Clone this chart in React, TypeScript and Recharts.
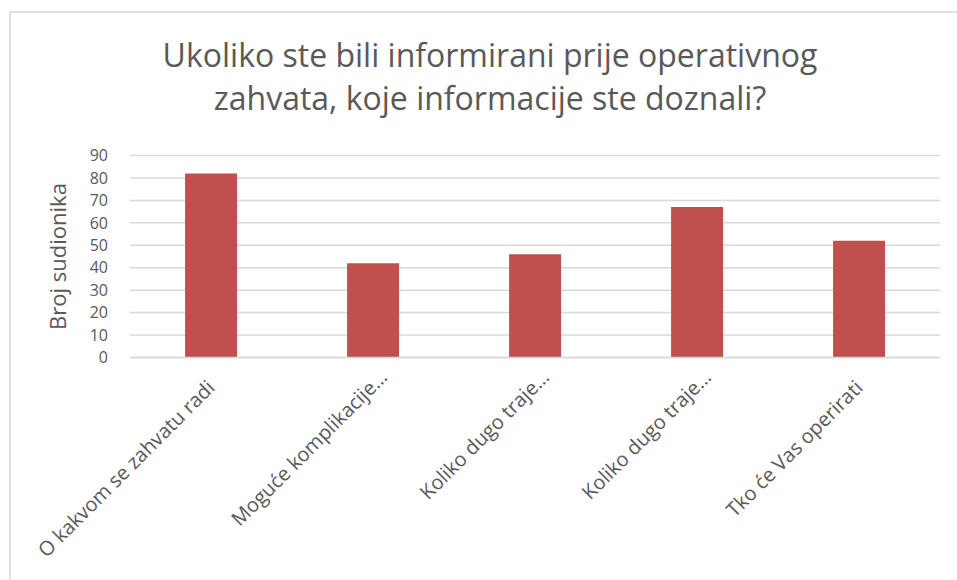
import React from 'react';
import { BarChart, Bar, XAxis, YAxis, CartesianGrid, Label } from 'recharts';

const categories = [
  'O kakvom se zahvatu radi',
  'Moguće komplikacije…',
  'Koliko dugo traje…',
  'Koliko dugo traje…',
  'Tko će Vas operirati',
];
const participants = [82, 42, 46, 67, 52];
const yTicks = [0, 10, 20, 30, 40, 50, 60, 70, 80, 90];

const titleLines = [
  'Ukoliko ste bili informirani prije operativnog',
  'zahvata, koje informacije ste doznali?',
];
const yAxisTitle = 'Broj sudionika';

const data = categories.map((name, i) => ({ name, value: participants[i] }));

const FONT = '"Open Sans", sans-serif';
const TEXT = '#595959';

function CategoryTick(props: any) {
  const { x, y, payload } = props;
  const ax = x + 5;
  const ay = y + 23.5;
  // truncated labels sit a little further along their own line
  const shift = String(payload.value).endsWith('…') ? 15 : 0;
  return (
    <text
      x={ax}
      y={ay}
      dx={shift}
      transform={`rotate(-45, ${ax}, ${ay})`}
      textAnchor="end"
      fill={TEXT}
      fontSize={20}
      fontFamily={FONT}
    >
      {payload.value}
    </text>
  );
}

export default function App() {
  return (
    <div
      style={{
        position: 'absolute',
        left: 0,
        top: 0,
        width: 957,
        height: 580,
        overflow: 'hidden',
        background: '#fff',
      }}
    >
      <div
        style={{
          position: 'absolute',
          left: 9,
          top: 11,
          width: 1000,
          height: 620,
          border: '2px solid #e0e0e0',
        }}
      />
      <div
        style={{
          position: 'absolute',
          left: 0,
          top: 33,
          width: 980,
          textAlign: 'center',
          fontFamily: FONT,
          fontSize: 32,
          lineHeight: '43px',
          color: TEXT,
        }}
      >
        {titleLines.map((t) => (
          <div key={t}>{t}</div>
        ))}
      </div>
      <div style={{ position: 'absolute', left: 0, top: 0 }}>
        <BarChart
          width={957}
          height={580}
          data={data}
          margin={{ top: 155.5, right: 17, left: 0, bottom: 0 }}
          barCategoryGap="34%"
        >
          <CartesianGrid vertical={false} stroke="#d9d9d9" strokeWidth={1.5} />
          <XAxis
            dataKey="name"
            height={222.5}
            interval={0}
            tickLine={false}
            axisLine={{ stroke: '#d9d9d9', strokeWidth: 1.5 }}
            tick={<CategoryTick />}
          />
          <YAxis
            width={130}
            domain={[0, 90]}
            ticks={yTicks}
            interval={0}
            axisLine={false}
            tickLine={false}
            tickMargin={16}
            tick={{ fill: TEXT, fontSize: 16, fontFamily: FONT }}
          >
            <Label
              content={(p: any) => {
                const vb = p.viewBox;
                const lx = vb.x + 66;
                const ly = vb.y + vb.height / 2;
                return (
                  <text
                    x={lx}
                    y={ly}
                    transform={`rotate(-90, ${lx}, ${ly})`}
                    textAnchor="middle"
                    fill={TEXT}
                    fontSize={22}
                    fontFamily={FONT}
                  >
                    {yAxisTitle}
                  </text>
                );
              }}
            />
          </YAxis>
          <Bar dataKey="value" fill="#C0504D" isAnimationActive={false} />
        </BarChart>
      </div>
    </div>
  );
}
